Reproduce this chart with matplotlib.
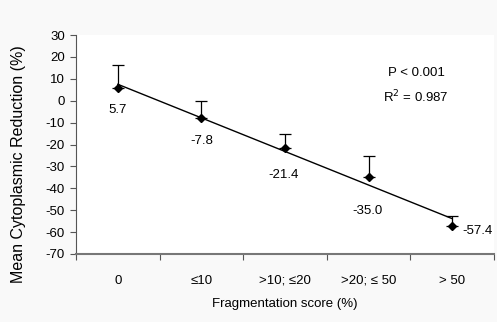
import numpy as np
import matplotlib
matplotlib.use("Agg")
import matplotlib.pyplot as plt

categories = ["0", "\u226410", ">10; \u226420", ">20; \u2264 50", "> 50"]
means = [5.7, -7.8, -21.4, -35.0, -57.4]
errors = [10.6, 7.8, 6.0, 9.7, 4.8]
value_labels = ["5.7", "-7.8", "-21.4", "-35.0", "-57.4"]

plt.rcParams["font.family"] = ["Liberation Sans Narrow", "Liberation Sans", "DejaVu Sans"]
plt.rcParams["axes.unicode_minus"] = False

fig = plt.figure(figsize=(4.97, 3.22), dpi=100, facecolor="#f9f9f9")
ax = fig.add_axes([76 / 497, 1 - 254 / 322, 418 / 497, 219 / 322])
ax.set_facecolor("white")

x = np.arange(len(categories))
ax.errorbar(x, means, yerr=[np.zeros(len(errors)), errors], fmt="D", color="black",
            ms=4.5, ecolor="black", elinewidth=0.9, capsize=4, capthick=0.9, zorder=3)

# linear fit through the category means
slope, intercept = np.polyfit(x, means, 1)
ax.plot(x, slope * x + intercept, color="black", lw=1.0, zorder=2)

offsets = [(0, -16), (0, -17), (-1, -20), (-1, -24), (18, -3)]
for xi, yi, lab, (dx, dy) in zip(x, means, value_labels, offsets):
    ax.annotate(lab, (xi, yi), xytext=(dx, dy), textcoords="offset points",
                ha="center", va="center", fontsize=9.5)

ax.text(3.57, 12.5, "P < 0.001", ha="center", va="center", fontsize=9.5)
ax.text(3.57, 1.5, "R$^2$ = 0.987", ha="center", va="center", fontsize=9.5)

ax.set_xlim(-0.5, 4.5)
ax.set_ylim(-70, 30)
ax.set_yticks(range(-70, 31, 10))
ax.set_xticks(np.arange(-0.5, 4.6, 1.0))
ax.set_xticklabels([])
ax.set_xticks(x, minor=True)
ax.set_xticklabels(categories, minor=True)
ax.tick_params(axis="x", which="minor", length=0, pad=15, labelsize=9.5)
ax.tick_params(axis="x", which="major", length=4, direction="out", color="#555555")
ax.tick_params(axis="y", length=4, direction="out", labelsize=9.5, color="#555555", pad=4)

for s in ["top", "right"]:
    ax.spines[s].set_visible(False)
ax.spines["left"].set_color("#555555")
ax.spines["bottom"].set_color("#777777")
ax.spines["bottom"].set_linewidth(1.5)

ax.set_xlabel("Fragmentation score (%)", fontsize=9.5, labelpad=8)
ax.set_ylabel("Mean Cytoplasmic Reduction (%)", fontsize=11.5)
ax.yaxis.set_label_coords(-0.12, 0.41)

fig.savefig("out.png", dpi=100, facecolor=fig.get_facecolor())
